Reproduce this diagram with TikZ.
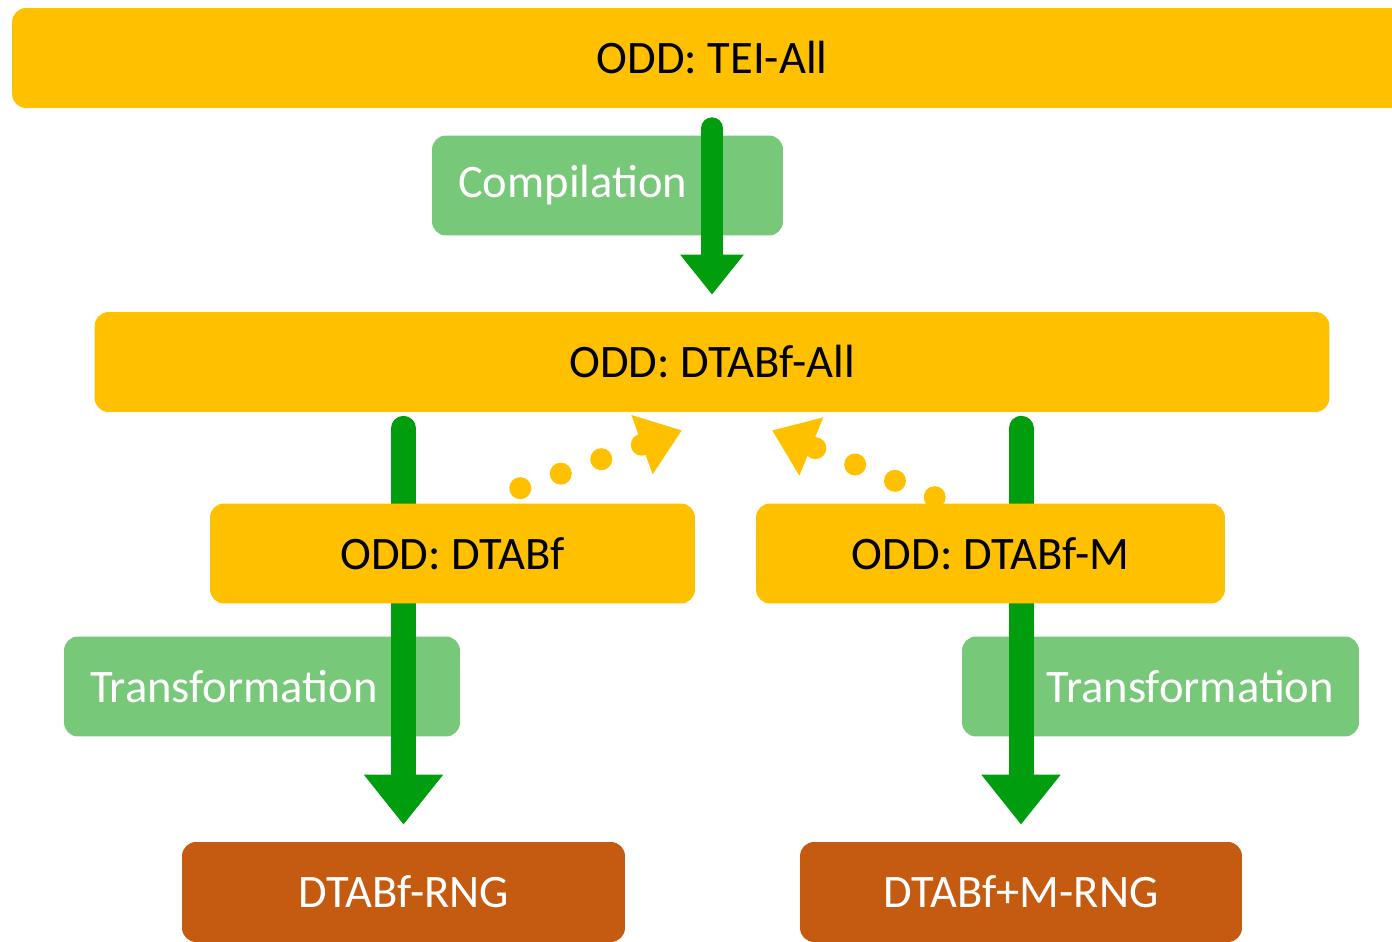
\documentclass[tikz,border=0pt]{standalone}
\usepackage{fontspec}
\setmainfont{Carlito}
\usetikzlibrary{arrows.meta,calc}
\definecolor{oddyellow}{HTML}{FFC000}
\definecolor{flowgreen}{HTML}{009E0F}
\definecolor{labelgreen}{HTML}{78C87A}
\definecolor{rngbrown}{HTML}{C55A11}
\begin{document}
\begin{tikzpicture}[x=0.02cm,y=-0.02cm,
	box/.style={rectangle,rounded corners=0.28cm,minimum height=2cm,inner sep=0pt,font=\fontsize{26.5}{30}\selectfont},
	odd/.style={box,fill=oddyellow,text=black},
	trans/.style={box,fill=labelgreen,text=white,inner xsep=0.52cm},
	rng/.style={box,fill=rngbrown,text=white},
	flow/.style={draw=flowgreen,line width=0.5cm,line cap=round,-{Triangle[width=1.52cm,length=1cm]}},
	back/.style={draw=oddyellow,line width=0.44cm,line cap=round,dash pattern=on 0pt off 0.86cm,-{Triangle[width=1.2cm,length=0.85cm]}}]
	\useasboundingbox (0,0) rectangle (1392,942);
	\node[odd,minimum width=28cm] (teiall) at (712,58) {ODD: TEI-All};
	\node[odd,minimum width=24.7cm] (dtaball) at (712,362) {ODD: DTABf-All};
	\node[rng,minimum width=8.86cm] (rngl) at (403.5,892) {DTABf-RNG};
	\node[rng,minimum width=8.84cm] (rngr) at (1021,892) {DTABf+M-RNG};
	\node[trans,text width=5.98cm,align=left] (comp) at (607.5,185.5) {Compilation};
	\node[trans,text width=6.88cm,align=left] (transl) at (262,686.5) {Transformation};
	\node[trans,text width=6.94cm,align=right,inner xsep=0.5cm] (transr) at (1160.5,686.5) {Transformation};
	% green arrows
	\draw[flow,line width=0.44cm,-{Triangle[width=1.22cm,length=0.8cm]}] ($(teiall.south)+(0,20)$) -- ($(dtaball.north)+(0,-17)$);
	\draw[flow] ($(dtaball.south -| rngl.north)+(0,16)$) -- ($(rngl.north)+(0,-17)$);
	\draw[flow] ($(dtaball.south -| rngr.north)+(0,16)$) -- ($(rngr.north)+(0,-17)$);
	\node[odd,minimum width=9.7cm] (dtabf) at (452.5,553.5) {ODD: DTABf};
	\node[odd,minimum width=9.38cm] (dtabfm) at (990.5,553.5) {ODD: DTABf-M};
	% dotted arrows back up
	\draw[back] ($(dtabf.north east)+(-175,-15)$) -- ($(dtaball.south)+(-30,18)$);
	\draw[back] ($(dtabfm.north west)+(179,-6)$) -- ($(dtaball.south)+(60,18)$);
\end{tikzpicture}
\end{document}
